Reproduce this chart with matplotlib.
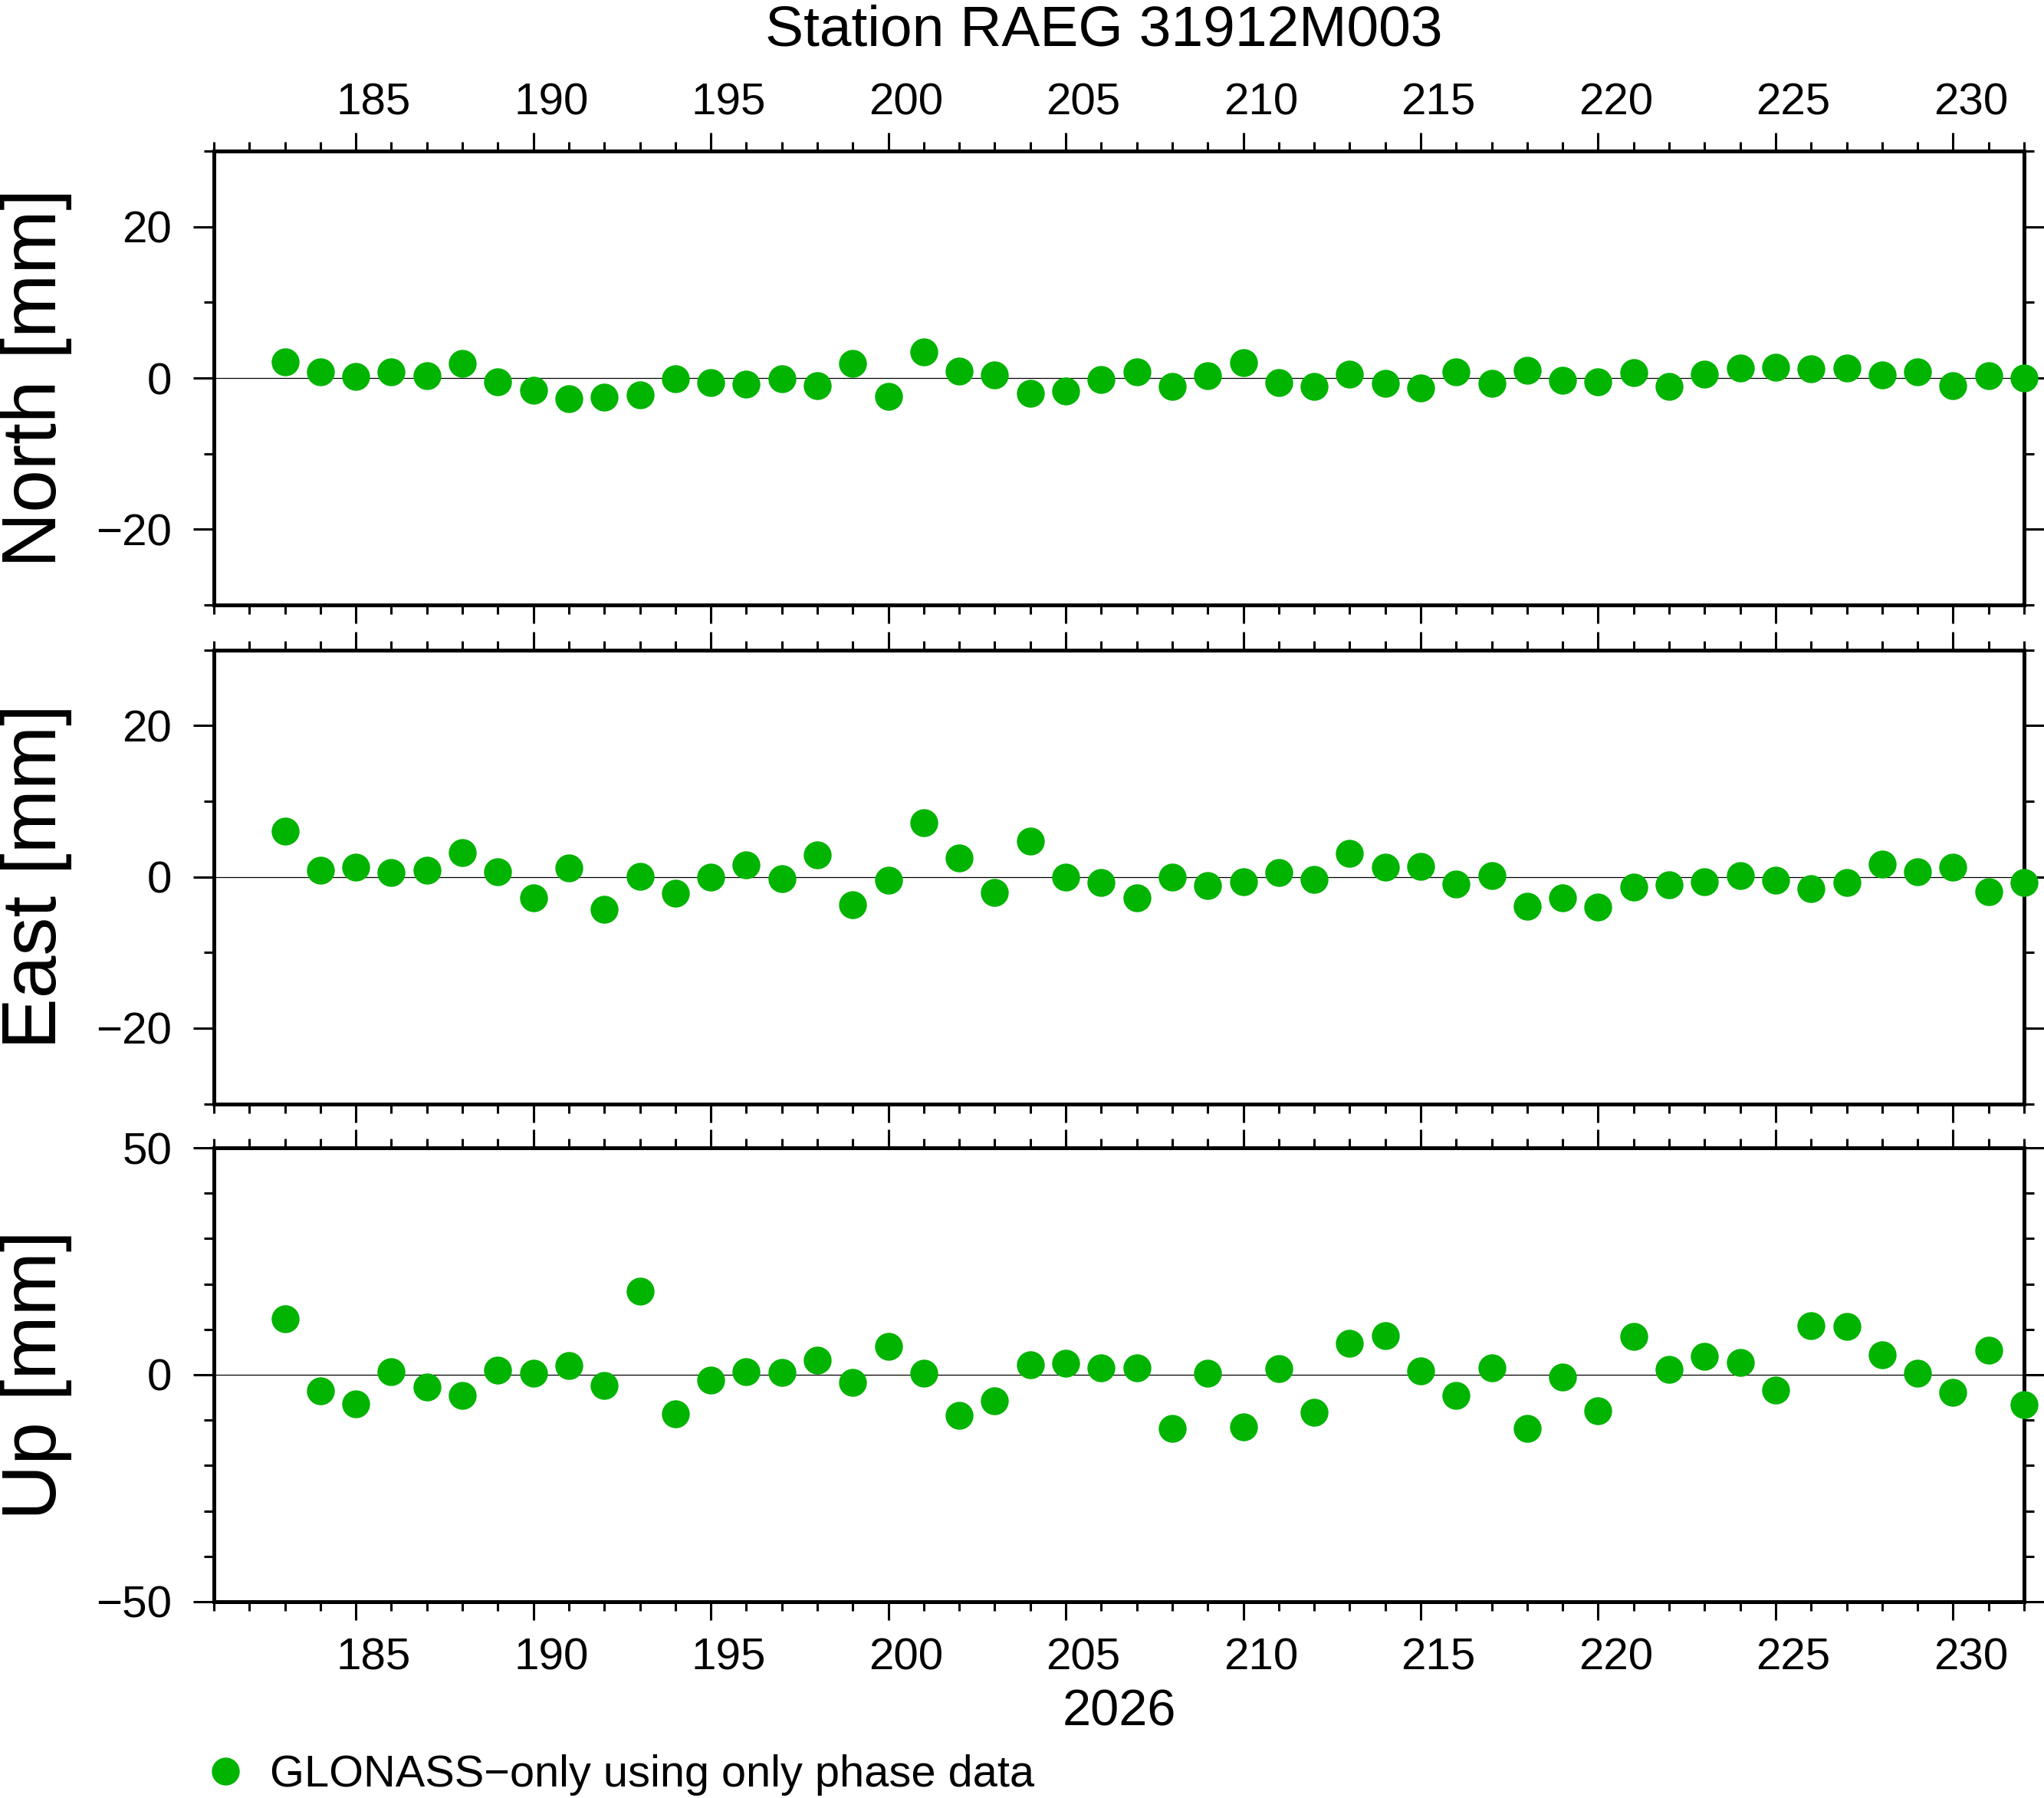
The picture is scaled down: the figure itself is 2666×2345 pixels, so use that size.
import matplotlib
matplotlib.use('Agg')
import matplotlib.pyplot as plt
from matplotlib.ticker import MultipleLocator, FixedLocator
from matplotlib.transforms import ScaledTranslation, blended_transform_factory

# day of year 2026
days = list(range(183, 233))
north = [2.1, 0.8, 0.2, 0.8, 0.3, 1.9, -0.5, -1.6, -2.7, -2.5,
         -2.2, -0.1, -0.6, -0.8, -0.1, -1.0, 1.9, -2.4, 3.4, 0.9,
         0.4, -2.0, -1.7, -0.2, 0.8, -1.1, 0.3, 2.0, -0.6, -1.1,
         0.5, -0.7, -1.3, 0.8, -0.7, 1.0, -0.3, -0.5, 0.7, -1.1,
         0.5, 1.3, 1.4, 1.2, 1.3, 0.4, 0.8, -1.0, 0.3, 0.0]
east = [6.0, 0.9, 1.3, 0.6, 0.9, 3.2, 0.7, -2.8, 1.2, -4.3,
        0.1, -2.2, -0.1, 1.6, -0.3, 2.9, -3.7, -0.5, 7.1, 2.5,
        -2.1, 4.7, -0.1, -0.8, -2.8, -0.1, -1.2, -0.7, 0.6, -0.4,
        3.1, 1.3, 1.4, -1.0, 0.2, -3.9, -2.8, -4.0, -1.4, -1.1,
        -0.7, 0.2, -0.5, -1.6, -0.8, 1.7, 0.7, 1.3, -2.0, -0.8]
up = [12.3, -3.6, -6.4, 0.7, -2.7, -4.6, 1.0, 0.3, 2.0, -2.4,
      18.4, -8.6, -1.2, 0.7, 0.5, 3.2, -1.7, 6.3, 0.3, -9.0,
      -5.8, 2.2, 2.5, 1.5, 1.5, -11.8, 0.3, -11.5, 1.4, -8.3,
      6.9, 8.6, 0.9, -4.6, 1.5, -11.8, -0.5, -7.9, 8.5, 1.2,
      4.1, 2.7, -3.4, 10.8, 10.7, 4.4, 0.3, -3.9, 5.4, -6.6]

xtick_days = [185, 190, 195, 200, 205, 210, 215, 220, 225, 230]
panels = ['North [mm]', 'East [mm]', 'Up [mm]']
title = 'Station RAEG 31912M003'
year_label = '2026'
legend_label = 'GLONASS\u2212only using only phase data'

green = '#00b400'
plt.rcParams['font.family'] = ['Liberation Sans', 'DejaVu Sans']

fig_w, fig_h = 13.33, 11.725
fig = plt.figure(figsize=(fig_w, fig_h), dpi=200)

left, width, height = 0.10465, 0.8856, 0.25245
bottoms = [0.66354, 0.38614, 0.10917]
series = [north, east, up]
ylims = [(-30, 30), (-30, 30), (-50, 50)]
ymajors = [[-20, 0, 20], [-20, 0, 20], [-50, 0, 50]]

axes = []
for i in range(3):
    ax = fig.add_axes([left, bottoms[i], width, height])
    ax.axhline(0, color='black', lw=0.45, zorder=1)
    line, = ax.plot(days, series[i], 'o', ms=13.1, color=green, mec='none',
                    clip_on=False, zorder=5)
    ax.set_xlim(181, 232)
    ax.set_ylim(*ylims[i])
    ax.xaxis.set_major_locator(MultipleLocator(5))
    ax.xaxis.set_minor_locator(MultipleLocator(1))
    ax.yaxis.set_major_locator(FixedLocator(ymajors[i]))
    ax.yaxis.set_minor_locator(MultipleLocator(10))
    ax.tick_params(which='both', direction='out', top=True, right=True,
                   labelbottom=False, labeltop=False, width=1.1, color='black')
    ax.tick_params(axis='x', which='major', length=8.8)
    ax.tick_params(axis='x', which='minor', length=4.3)
    ax.tick_params(axis='y', which='major', length=9.7, pad=10, labelsize=21)
    ax.tick_params(axis='y', which='minor', length=4.7)
    for s in ax.spines.values():
        s.set_linewidth(1.8)
    fig.text(0.0274, bottoms[i] + height / 2, panels[i], rotation=90,
             rotation_mode='anchor', ha='center', va='baseline', fontsize=36)
    axes.append(ax)

# day labels centred on the day interval (GMT style)
for ax, ypos, off in [(axes[0], 1, 47.7 / 200), (axes[2], 0, -89.0 / 200)]:
    tr = blended_transform_factory(ax.transData, ax.transAxes) + \
        ScaledTranslation(0, off, fig.dpi_scale_trans)
    for d in xtick_days:
        ax.text(d + 0.5, ypos, str(d), transform=tr, ha='center',
                va='baseline', fontsize=21)

fig.text(0.54, 0.9748, title, ha='center', va='baseline', fontsize=27)
fig.text(left + width / 2, 0.0405, year_label, ha='center', va='baseline',
         fontsize=24)

fig.legend(handles=[line], labels=[legend_label], loc='center left',
           bbox_to_anchor=(0.0994, 0.0128), frameon=False, numpoints=1,
           handlelength=1.0, handletextpad=0.5, borderpad=0,
           borderaxespad=0, fontsize=20.8)

fig.savefig('out.png', dpi=200)
